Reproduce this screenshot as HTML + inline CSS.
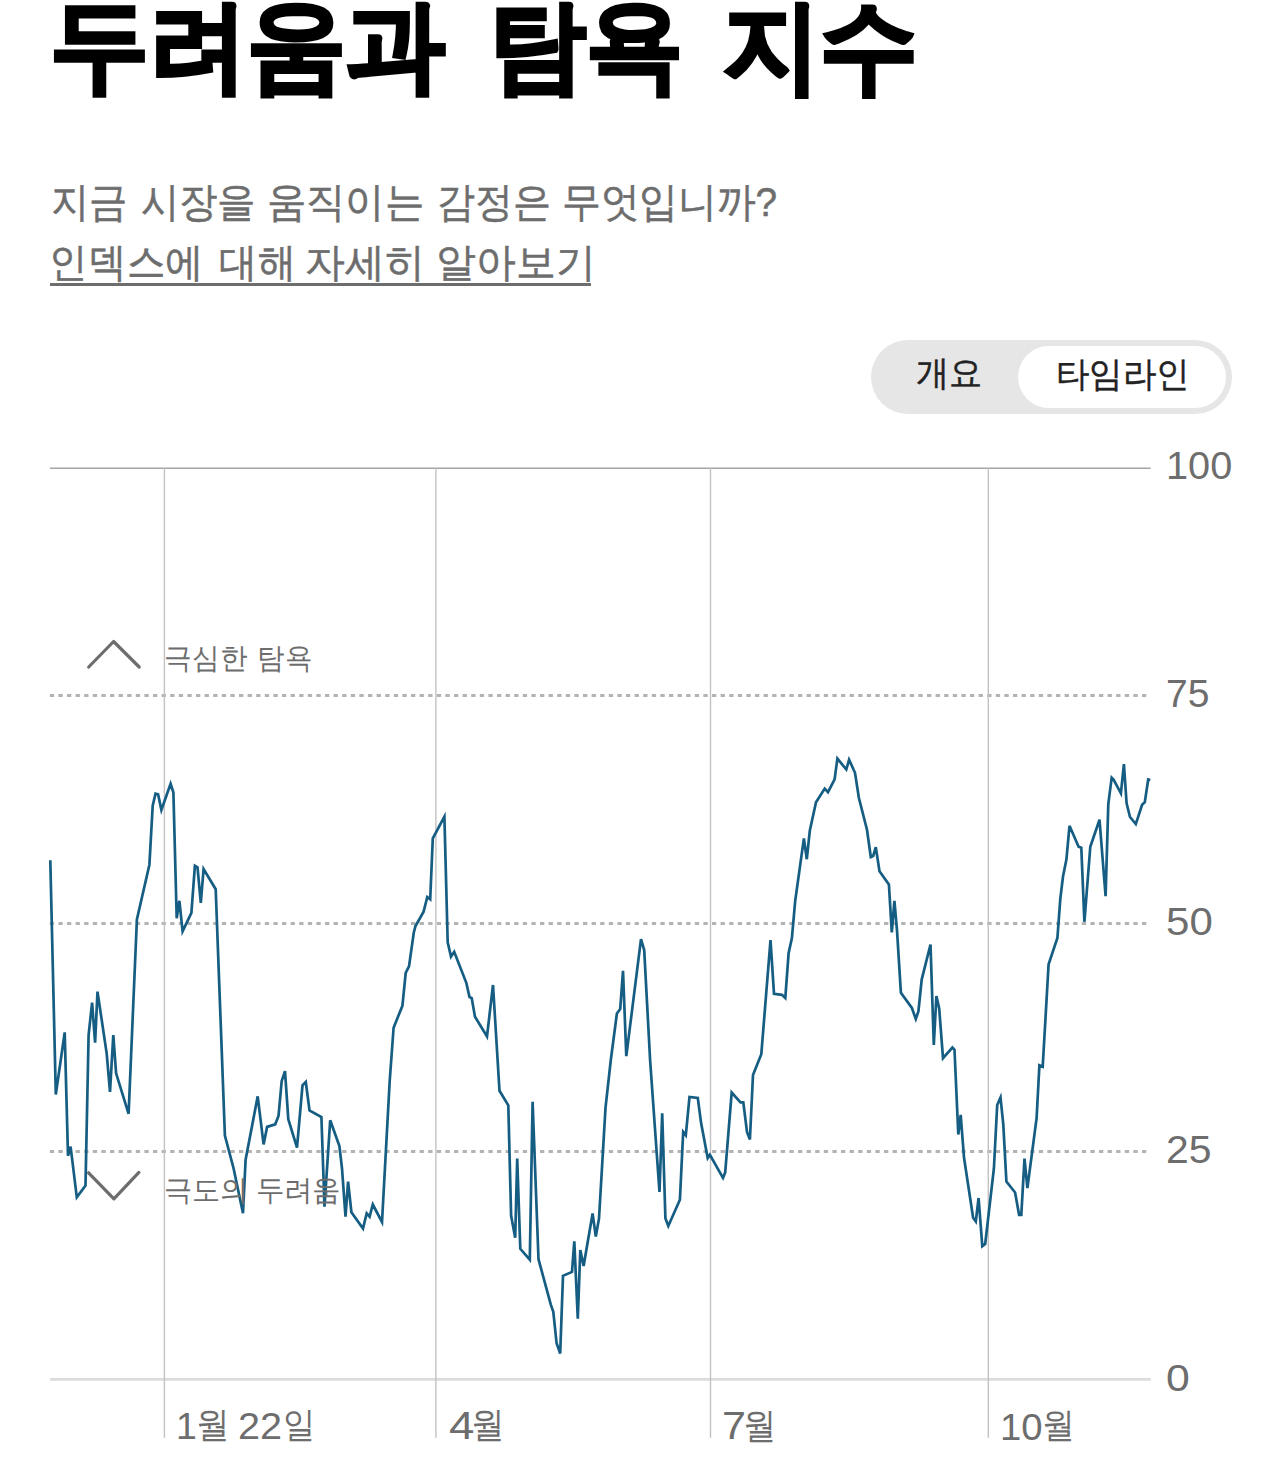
<!DOCTYPE html>
<html><head><meta charset="utf-8"><title>두려움과 탐욕 지수</title>
<style>
html,body{margin:0;padding:0;background:#fff;}
body{width:1280px;height:1478px;overflow:hidden;position:relative;font-family:"Liberation Sans",sans-serif;}
.t{position:absolute;font-family:"Liberation Sans",sans-serif;line-height:1;white-space:nowrap;transform-origin:0 0;}
.pill{position:absolute;left:871px;top:339.5px;width:361px;height:74.5px;border-radius:37.25px;background:#e6e6e6;}
.pill .on{position:absolute;left:147px;top:6px;width:208px;height:62.5px;border-radius:31.25px;background:#fff;}
.ul{position:absolute;left:50px;top:282.8px;width:540.5px;height:2.8px;background:#6d6d6d;}
svg{position:absolute;left:0;top:0;}
</style></head><body>
<div class="pill"><div class="on"></div></div>
<svg width="1280" height="1478" viewBox="0 0 1280 1478">
<g fill="none">
<line x1="50" y1="468.2" x2="1150.6" y2="468.2" stroke="#a4a4a4" stroke-width="1.6"/>
<line x1="49.8" y1="695.5" x2="1147" y2="695.5" stroke="#b3b3b3" stroke-width="3" stroke-dasharray="4.3 4.3"/>
<line x1="49.8" y1="923.5" x2="1147" y2="923.5" stroke="#b3b3b3" stroke-width="3" stroke-dasharray="4.3 4.3"/>
<line x1="49.8" y1="1151.6" x2="1147" y2="1151.6" stroke="#b3b3b3" stroke-width="3" stroke-dasharray="4.3 4.3"/>
<line x1="50" y1="1379.3" x2="1150.8" y2="1379.3" stroke="#dcdcdc" stroke-width="2.8"/>
<line x1="164.4" y1="468" x2="164.4" y2="1437.7" stroke="#c2c2c2" stroke-width="1.4"/>
<line x1="435.9" y1="468" x2="435.9" y2="1437.7" stroke="#c2c2c2" stroke-width="1.4"/>
<line x1="710.5" y1="468" x2="710.5" y2="1437.7" stroke="#c2c2c2" stroke-width="1.4"/>
<line x1="988.3" y1="468" x2="988.3" y2="1437.7" stroke="#c2c2c2" stroke-width="1.4"/>
<polyline points="88.7,667 113.6,641.5 139.2,667" stroke="#6d6d6d" stroke-width="3.2" stroke-linecap="round" stroke-linejoin="round"/>
<polyline points="88.6,1172.8 113.9,1198.8 138.9,1172.4" stroke="#6d6d6d" stroke-width="3.2" stroke-linecap="round" stroke-linejoin="round"/>
<polyline points="50.3,860.3 55.8,1094.5 64.7,1032.4 68,1155.8 70.6,1146.6 76.8,1197.3 85.5,1185.5 88.6,1035 92.1,1002.6 95.1,1042.7 97.5,991.6 106.7,1053.6 110,1091.9 113.3,1035 116.1,1073.3 128.6,1113.8 136.9,919.4 149.4,864.7 152.7,805.6 155.5,793.6 158.1,794.3 161.4,810 170.6,783.8 173.4,792.5 176.7,918.3 179.4,900.8 182.6,931.4 191.4,912.8 194.9,865.8 197.5,867.3 200.8,903 203.6,869 215.7,889.2 224.9,1135.6 233.6,1168.5 243,1213.3 245.6,1159.7 257.7,1096.3 263.6,1144.4 267.1,1126.9 275.2,1124.3 278.5,1116 281.7,1081 285,1071.1 288.3,1119.2 297,1147.7 302.5,1085.3 305.8,1082 309.5,1110.5 321.4,1117 324.5,1206.7 330.2,1120.3 339.4,1146.1 342,1168.5 345.5,1216.6 348.1,1181.6 351.4,1212.2 363,1228.6 366.7,1213.3 369.6,1216.6 372.8,1204.5 382,1222 389.7,1081 393.6,1027.7 402.4,1005.8 405.7,973 409,966.4 413.8,932.5 415.5,926 423.6,911.7 427.3,897 430.2,899.3 432.8,838.4 444.4,816.6 447.7,942.4 451,956.6 454.2,951.8 466.3,982.8 469.5,997 471.7,998.1 475,1016.7 487,1036.4 493,985 499.5,1090.8 508.3,1105.4 511.1,1215.5 515.2,1237.8 517.2,1158.6 520.3,1248.8 529.8,1259.7 532.6,1101.7 538.5,1259.2 550.8,1304.7 553.3,1311.8 556.6,1343.3 560.2,1353.5 563,1275.8 572,1271.9 574.3,1241.4 577.8,1318.8 580.3,1250 583.6,1265.9 592.6,1213.4 595.8,1236.6 599,1218.6 605.5,1107.8 610.8,1060 616.9,1013.5 620.2,1009.1 623,970.8 626.3,1056.1 641,939.1 644.2,950 650.1,1060 659.5,1192 662.2,1113.3 665.4,1218.3 668.3,1226 679.9,1199.7 683.2,1131.9 685.8,1135.2 689.5,1096.9 697.8,1098 701.1,1123.1 707.7,1158.1 709.9,1154.9 723,1177.8 725.2,1172.4 731.7,1092.5 740.5,1102.3 743.3,1102.3 747,1131.9 749.9,1139.5 753,1075 761.3,1054.2 770.5,940.2 774,993.8 782,994.9 785.3,998.1 788.6,953.3 791.9,938 795.2,900.8 803.9,838.4 806.8,859.2 809.8,830.8 816,802.3 824.7,788.6 828,792.1 834.6,779.4 837.4,758.6 846.3,769.5 849.1,759.7 855,772.8 858.9,798 867,829.7 870.8,857 873.2,856 875.8,847.2 879.5,871.3 888.9,884.4 891.8,932.5 894.4,900.8 897,930.3 900.9,992.7 911.9,1008 915.8,1019 918.4,1011.5 921.7,979.6 930.5,944.5 933.8,1045 936.4,996 939.2,1008.5 943,1058.2 952.4,1047.5 954.5,1049.8 958.3,1134.5 960.7,1114.9 964,1157.5 973.1,1217.7 975.8,1221.4 978.6,1198 982.3,1246.1 985.2,1243.9 993.9,1168.5 997.2,1105 1000.5,1097.4 1003.3,1124.7 1006.4,1181.6 1015.1,1192.5 1019.1,1214.8 1021.3,1214.8 1024.5,1158.6 1027.4,1188.1 1036.6,1118.1 1039.4,1065.2 1042.7,1066.7 1048.6,964.2 1057.4,938 1060.3,898.8 1063,876.5 1066.4,859.6 1069.5,825.8 1078.6,846.7 1081.3,847.7 1084.4,921.8 1090.3,846.7 1099.5,819.7 1105.6,896.1 1108.3,804.1 1111.7,777.7 1113.7,779.8 1120.9,793.3 1123.9,764.2 1126.6,803.4 1130,817 1135.8,824.1 1142.1,804.8 1144.8,802.1 1148.2,779.5 1150.3,780" stroke="#155d82" stroke-width="2.7" stroke-linejoin="miter" stroke-miterlimit="4"/>
</g></svg>
<div class="t" style="left:50.05px;top:-5.48px;font-size:100px;font-weight:700;color:#000;transform:scale(0.9864,0.9969);-webkit-text-stroke:3.8px #000">두려움과</div>
<div class="t" style="left:488.83px;top:-5.48px;font-size:100px;font-weight:700;color:#000;transform:scale(0.9672,0.9969);-webkit-text-stroke:3.8px #000">탐욕</div>
<div class="t" style="left:723.40px;top:-5.34px;font-size:100px;font-weight:700;color:#000;transform:scale(0.9724,1.0062);-webkit-text-stroke:3.8px #000">지수</div>
<div class="t" style="left:51.20px;top:180.72px;font-size:40px;font-weight:400;color:#6d6d6d;transform:scale(0.9507,1.0194);-webkit-text-stroke:0.5px currentColor">지금</div>
<div class="t" style="left:140.64px;top:180.72px;font-size:40px;font-weight:400;color:#6d6d6d;transform:scale(0.9560,1.0194);-webkit-text-stroke:0.5px currentColor">시장을</div>
<div class="t" style="left:266.76px;top:180.72px;font-size:40px;font-weight:400;color:#6d6d6d;transform:scale(0.9799,1.0194);-webkit-text-stroke:0.5px currentColor">움직이는</div>
<div class="t" style="left:437.46px;top:180.72px;font-size:40px;font-weight:400;color:#6d6d6d;transform:scale(0.9456,1.0194);-webkit-text-stroke:0.5px currentColor">감정은</div>
<div class="t" style="left:562.40px;top:180.72px;font-size:40px;font-weight:400;color:#6d6d6d;transform:scale(0.9679,1.0194);-webkit-text-stroke:0.5px currentColor">무엇입니까?</div>
<div class="t" style="left:49.22px;top:242.47px;font-size:40px;font-weight:400;color:#6d6d6d;transform:scale(0.9689,1.0083);-webkit-text-stroke:0.5px currentColor">인덱스에</div>
<div class="t" style="left:219.37px;top:242.47px;font-size:40px;font-weight:400;color:#6d6d6d;transform:scale(0.9630,1.0083);-webkit-text-stroke:0.5px currentColor">대해</div>
<div class="t" style="left:305.19px;top:242.47px;font-size:40px;font-weight:400;color:#6d6d6d;transform:scale(1.0045,1.0083);-webkit-text-stroke:0.5px currentColor">자세히</div>
<div class="t" style="left:435.74px;top:242.47px;font-size:40px;font-weight:400;color:#6d6d6d;transform:scale(1.0036,1.0083);-webkit-text-stroke:0.5px currentColor">알아보기</div>
<div class="t" style="left:915.78px;top:355.93px;font-size:40px;font-weight:400;color:#222;transform:scale(0.8211,0.8667);-webkit-text-stroke:0.5px currentColor">개요</div>
<div class="t" style="left:1056.25px;top:356.22px;font-size:40px;font-weight:400;color:#222;transform:scale(0.8326,0.8694);-webkit-text-stroke:0.5px currentColor">타임라인</div>
<div class="t" style="left:1165.52px;top:446.21px;font-size:40px;font-weight:400;color:#6d6d6d;transform:scale(0.9919,0.9643);">100</div>
<div class="t" style="left:1165.55px;top:674.21px;font-size:40px;font-weight:400;color:#6d6d6d;transform:scale(0.9756,0.9643);">75</div>
<div class="t" style="left:1166.20px;top:902.11px;font-size:40px;font-weight:400;color:#6d6d6d;transform:scale(1.0512,0.9821);">50</div>
<div class="t" style="left:1166.26px;top:1129.67px;font-size:40px;font-weight:400;color:#6d6d6d;transform:scale(1.0220,0.9714);">25</div>
<div class="t" style="left:1165.56px;top:1359.29px;font-size:40px;font-weight:400;color:#6d6d6d;transform:scale(1.0684,0.9357);">0</div>
<div class="t" style="left:164.11px;top:643.28px;font-size:40px;font-weight:400;color:#6d6d6d;transform:scale(0.6966,0.7306);">극심한</div>
<div class="t" style="left:256.93px;top:643.28px;font-size:40px;font-weight:400;color:#6d6d6d;transform:scale(0.6932,0.7306);">탐욕</div>
<div class="t" style="left:164.31px;top:1176.13px;font-size:40px;font-weight:400;color:#6d6d6d;transform:scale(0.6968,0.7167);">극도의</div>
<div class="t" style="left:255.68px;top:1176.13px;font-size:40px;font-weight:400;color:#6d6d6d;transform:scale(0.7061,0.7167);">두려움</div>
<div class="t" style="left:176.49px;top:1408.05px;font-size:40px;font-weight:400;color:#6d6d6d;transform:scale(0.9353,0.9250);">1</div>
<div class="t" style="left:195.87px;top:1407.45px;font-size:40px;font-weight:400;color:#6d6d6d;transform:scale(0.8323,0.8886);">월</div>
<div class="t" style="left:238.32px;top:1408.05px;font-size:40px;font-weight:400;color:#6d6d6d;transform:scale(0.9902,0.9250);">22</div>
<div class="t" style="left:283.10px;top:1407.45px;font-size:40px;font-weight:400;color:#6d6d6d;transform:scale(0.8000,0.8886);">일</div>
<div class="t" style="left:448.56px;top:1407.28px;font-size:40px;font-weight:400;color:#6d6d6d;transform:scale(1.1400,0.9536);">4</div>
<div class="t" style="left:471.17px;top:1407.45px;font-size:40px;font-weight:400;color:#6d6d6d;transform:scale(0.8323,0.8886);">월</div>
<div class="t" style="left:721.94px;top:1407.40px;font-size:40px;font-weight:400;color:#6d6d6d;transform:scale(1.0778,0.9500);">7</div>
<div class="t" style="left:742.67px;top:1407.41px;font-size:40px;font-weight:400;color:#6d6d6d;transform:scale(0.8323,0.8971);">월</div>
<div class="t" style="left:999.63px;top:1407.76px;font-size:40px;font-weight:400;color:#6d6d6d;transform:scale(0.9575,0.9393);">10</div>
<div class="t" style="left:1042.27px;top:1407.46px;font-size:40px;font-weight:400;color:#6d6d6d;transform:scale(0.8323,0.8857);">월</div>
<div class="ul"></div>
</body></html>
